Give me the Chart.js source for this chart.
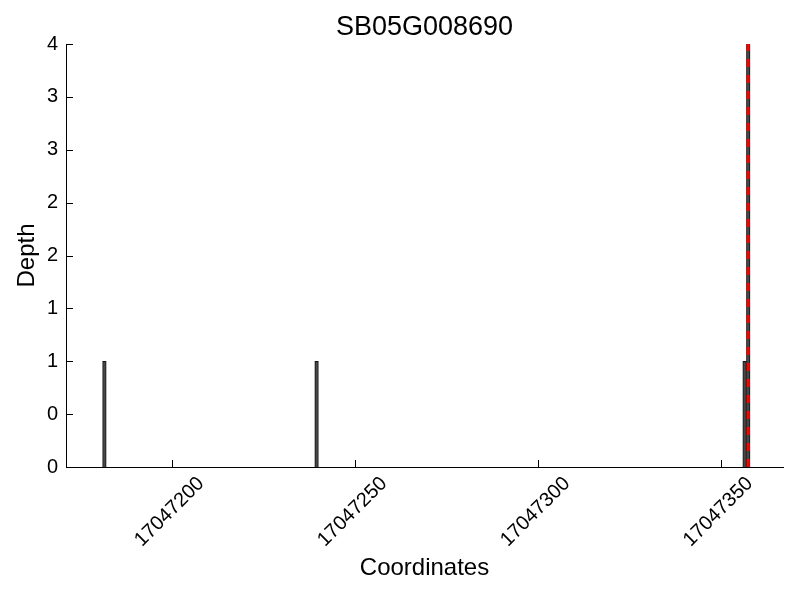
<!DOCTYPE html>
<html>
<head>
<meta charset="utf-8">
<script src="https://cdn.jsdelivr.net/npm/chart.js@4"></script>
<style>
  html, body { margin: 0; padding: 0; background: #fff; }
  #wrap { width: 800px; height: 600px; }
</style>
</head>
<body>
<div id="wrap"><canvas id="depthChart" width="800" height="600"></canvas></div>
<script>
const GENE = 'SB05G008690';

// read depth per coordinate (each bar covers [pos, pos+1])
const positions = [17047181, 17047239, 17047356, 17047357];
const depths = [1, 1, 1, 4];

// red dashed marker at the peak
const markerPos = 17047357.5;
const markerRange = [0, 4];

const xTickValues = [17047200, 17047250, 17047300, 17047350];
const xMin = 17047171;
const xMax = 17047367;
const yMin = 0;
const yMax = 4;

const FONT = 'Liberation Sans, Arial, Helvetica, sans-serif';

// inward tick marks, like the original
const innerTicks = {
  id: 'innerTicks',
  afterDatasetsDraw(chart) {
    const ctx = chart.ctx;
    const x = chart.scales.x;
    const y = chart.scales.y;
    const area = chart.chartArea;
    ctx.save();
    ctx.strokeStyle = '#000';
    ctx.lineWidth = 1;
    ctx.beginPath();
    y.ticks.forEach(t => {
      const py = Math.round(y.getPixelForValue(t.value)) + 0.5;
      ctx.moveTo(area.left, py);
      ctx.lineTo(area.left + 7, py);
    });
    x.ticks.forEach(t => {
      const px = Math.round(x.getPixelForValue(t.value)) + 0.5;
      ctx.moveTo(px, area.bottom);
      ctx.lineTo(px, area.bottom - 7);
    });
    ctx.stroke();
    ctx.restore();
  }
};

// title centred over the plot area (not the whole canvas)
const areaTitle = {
  id: 'areaTitle',
  afterDraw(chart) {
    const ctx = chart.ctx;
    const area = chart.chartArea;
    ctx.save();
    ctx.fillStyle = '#000';
    ctx.font = '27px ' + FONT;
    ctx.textAlign = 'center';
    ctx.textBaseline = 'middle';
    ctx.fillText(GENE, (area.left + area.right) / 2, 28);
    ctx.restore();
  }
};

new Chart(document.getElementById('depthChart').getContext('2d'), {
  type: 'bar',
  data: {
    datasets: [
      {
        type: 'line',
        data: markerRange.map(v => ({ x: markerPos, y: v })),
        borderColor: '#ff0000',
        borderWidth: 3,
        borderDash: [8, 8],
        pointRadius: 0,
        fill: false,
        order: 0
      },
      {
        data: positions.map((p, i) => ({ x: p + 0.5, y: depths[i] })),
        backgroundColor: '#474747',
        borderColor: '#111111',
        borderWidth: 1,
        barThickness: 3.6,
        order: 1
      }
    ]
  },
  options: {
    responsive: false,
    animation: false,
    layout: { padding: { left: 0, right: 17, top: 44, bottom: 0 } },
    plugins: {
      legend: { display: false },
      tooltip: { enabled: false },
      title: { display: false }
    },
    scales: {
      x: {
        type: 'linear',
        min: xMin,
        max: xMax,
        offset: false,
        grid: { display: false, drawTicks: false },
        border: { display: true, color: '#000', width: 1 },
        afterBuildTicks: s => { s.ticks = xTickValues.map(v => ({ value: v })); },
        afterFit: s => { s.height = 133; },
        ticks: {
          color: '#000',
          font: { family: FONT, size: 20 },
          minRotation: 45,
          maxRotation: 45,
          padding: 5,
          labelOffset: 29,
          callback: v => String(v)
        },
        title: {
          display: true,
          text: 'Coordinates',
          color: '#000',
          font: { family: FONT, size: 24 },
          padding: { top: 0, bottom: 17 }
        }
      },
      y: {
        min: yMin,
        max: yMax,
        grid: { display: false, drawTicks: false },
        border: { display: true, color: '#000', width: 1 },
        afterFit: s => { s.width = 66; },
        ticks: {
          stepSize: 0.5,
          color: '#000',
          font: { family: FONT, size: 20 },
          padding: 8,
          callback: v => String(Math.trunc(v))
        },
        title: {
          display: true,
          text: 'Depth',
          color: '#000',
          font: { family: FONT, size: 24 },
          padding: { top: 13, bottom: 0 }
        }
      }
    }
  },
  plugins: [innerTicks, areaTitle]
});
</script>
</body>
</html>
